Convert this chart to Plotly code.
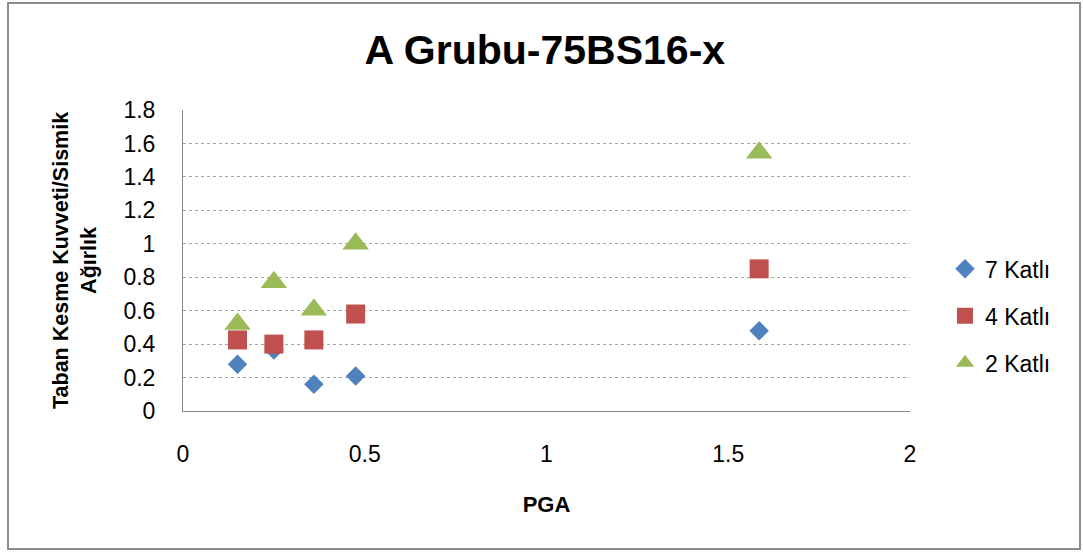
import plotly.graph_objects as go

pga = [0.15, 0.25, 0.36, 0.475, 1.585]
katli7 = [0.28, 0.365, 0.16, 0.21, 0.48]
katli4 = [0.425, 0.40, 0.425, 0.58, 0.85]
katli2 = [0.52, 0.77, 0.605, 1.0, 1.545]

series_names = ["7 Katlı", "4 Katlı", "2 Katlı"]
x_ticks = [0, 0.5, 1, 1.5, 2]
y_ticks = [0, 0.2, 0.4, 0.6, 0.8, 1.0, 1.2, 1.4, 1.6, 1.8]

fig = go.Figure()
# drawing order: triangles under squares
fig.add_trace(go.Scatter(x=pga, y=katli2, mode="markers", name=series_names[2],
                         legendrank=3, legendgroup="g2",
                         marker=dict(symbol="triangle-up", size=23, color="#9BBB59")))
fig.add_trace(go.Scatter(x=pga, y=katli7, mode="markers", name=series_names[0],
                         legendrank=1, legendgroup="g7",
                         marker=dict(symbol="diamond", size=15, color="#4F81BD")))
fig.add_trace(go.Scatter(x=pga, y=katli4, mode="markers", name=series_names[1],
                         legendrank=2, legendgroup="g4",
                         marker=dict(symbol="square", size=19, color="#C0504D")))

font_family = "Liberation Sans, Arial, sans-serif"

fig.update_layout(
    width=1083, height=554,
    margin=dict(l=183, r=173, t=110, b=143),
    paper_bgcolor="white", plot_bgcolor="white",
    font=dict(family=font_family, size=23, color="black"),
    title=dict(text="<b>A Grubu-75BS16-x</b>", x=0.503, xanchor="center",
               y=0.91, yanchor="middle", font=dict(size=41, color="black")),
    xaxis=dict(range=[0, 2], tickvals=x_ticks, ticktext=[f"{v:g}" for v in x_ticks],
               showgrid=False, zeroline=False, showline=True, linecolor="#868686", linewidth=1,
               ticks="outside", ticklen=22, tickcolor="rgba(0,0,0,0)",
               tickfont=dict(size=23),
               title=dict(text="<b>PGA</b>", font=dict(size=22), standoff=31)),
    yaxis=dict(range=[0, 1.8], tickvals=y_ticks, ticktext=[f"{v:g}" for v in y_ticks],
               showgrid=True, gridcolor="#A6A6A6", griddash="dot", gridwidth=1,
               zeroline=False, showline=True, linecolor="#868686", linewidth=1,
               ticks="outside", ticklen=22, tickcolor="rgba(0,0,0,0)",
               tickfont=dict(size=23)),
    legend=dict(x=(945 - 183) / 727, xanchor="left", y=0.316, yanchor="middle",
                font=dict(size=23), tracegroupgap=14, itemsizing="trace",
                traceorder="grouped", bgcolor="rgba(0,0,0,0)"),
    showlegend=True,
)

fig.add_annotation(text="<b>Taban Kesme Kuvveti/Sismik<br>Ağırlık</b>",
                   xref="paper", yref="paper", x=(75 - 183) / 727, y=(411 - 261) / 301,
                   xanchor="center", yanchor="middle", textangle=-90, showarrow=False,
                   font=dict(size=21.5, color="black"))

# outer chart border
fig.add_shape(type="rect", xref="paper", yref="paper",
              x0=(8 - 183) / 727, x1=(1080 - 183) / 727,
              y0=(411 - 549) / 301, y1=(411 - 3) / 301,
              line=dict(color="#8C8C8C", width=2), fillcolor="rgba(0,0,0,0)")

fig.write_html("out.html")
